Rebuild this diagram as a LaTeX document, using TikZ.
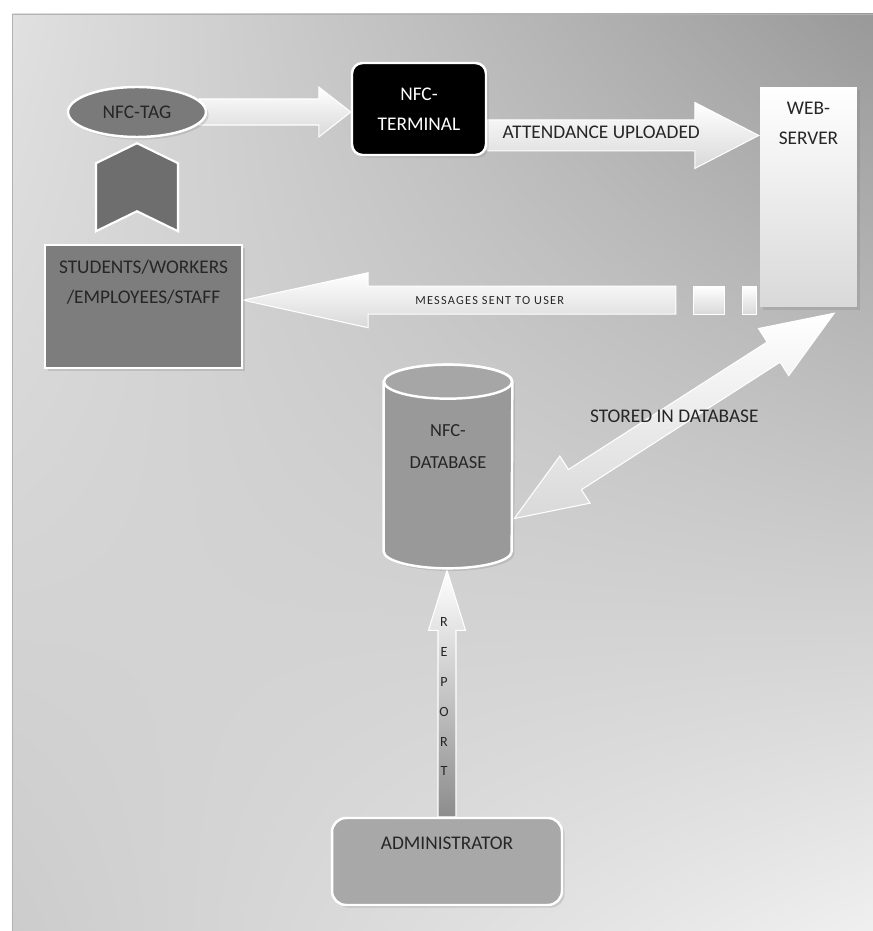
\documentclass[tikz,border=0pt]{standalone}
\usepackage{fontspec}
\setmainfont{Carlito}
\usetikzlibrary{calc,shapes.geometric,shadows,shadings}

\pgfdeclarelayer{bg}
\pgfdeclarelayer{flows}
\pgfsetlayers{bg,flows,main}

% 块状箭头: [样式]{起点}{终点}{半杆宽}{半头宽}{头长}
\newcommand{\blkarrow}[6][]{%
  \coordinate (hb) at ($(#3)!#6*0.02cm!(#2)$);
  \path[#1] ($(#2)!#4*0.02cm!90:(#3)$) -- ($(hb)!#4*0.02cm!90:(#3)$)
    -- ($(hb)!#5*0.02cm!90:(#3)$) -- (#3) -- ($(hb)!#5*0.02cm!-90:(#3)$)
    -- ($(hb)!#4*0.02cm!-90:(#3)$) -- ($(#2)!#4*0.02cm!-90:(#3)$) -- cycle;}
% 双向块状箭头
\newcommand{\dblkarrow}[6][]{%
  \coordinate (ha) at ($(#2)!#6*0.02cm!(#3)$);
  \coordinate (hb) at ($(#3)!#6*0.02cm!(#2)$);
  \path[#1] (#2) -- ($(ha)!#5*0.02cm!90:(#3)$) -- ($(ha)!#4*0.02cm!90:(#3)$)
    -- ($(hb)!#4*0.02cm!90:(#3)$) -- ($(hb)!#5*0.02cm!90:(#3)$) -- (#3)
    -- ($(hb)!#5*0.02cm!-90:(#3)$) -- ($(hb)!#4*0.02cm!-90:(#3)$)
    -- ($(ha)!#4*0.02cm!-90:(#3)$) -- ($(ha)!#5*0.02cm!-90:(#3)$) -- cycle;}

\begin{document}
\begin{tikzpicture}[x=0.02cm, y=0.02cm, thick,
    every node/.style={font=\fontsize{11}{17}\selectfont, text=black!85, align=center},
    box/.style={draw=white, line width=1.4pt, inner sep=0pt,
      drop shadow={opacity=0.25, shadow xshift=1.5pt, shadow yshift=-1.5pt}},
    lbl/.style={inner sep=0pt},
    flow/.style={draw=white, line width=0.6pt, top color=white, bottom color=black!15}]
  \useasboundingbox (0,0) rectangle (873,931);

  % 1. 背景渐变
  \begin{pgfonlayer}{bg}
    \shade[upper left=black!12, upper right=black!40, lower left=black!20, lower right=black!6]
      (12,0) rectangle (873,917);
    \draw[black!30, thin] (12,0) -- (12,917) -- (873,917);
  \end{pgfonlayer}

  % 2. 各模块
  \node[box, ellipse, fill=black!52, minimum width=2.76cm, minimum height=1cm] (tag) at (137,819) {NFC-TAG};
  \node[box, rounded corners=6pt, fill=black, text=white, minimum width=2.68cm, minimum height=1.84cm] (term) at (419,822) {NFC-\\TERMINAL};
  \node[box, draw=none, top color=white, bottom color=black!15, minimum width=1.94cm, minimum height=4.4cm] (server) at (808.5,734) {};
  \node[box, fill=black!51, minimum width=3.94cm, minimum height=2.46cm] (users) at (143.5,624.5) {};
  \node[inner sep=0pt, minimum width=2.56cm, minimum height=4.06cm] (db) at (448,464.5) {};
  \node[box, rounded corners=8pt, fill=black!34, minimum width=4.6cm, minimum height=1.74cm] (admin) at (447,69.5) {};

  % 数据库圆柱
  \path[fill=black!40, draw=white, line width=1.4pt, drop shadow={opacity=0.25, shadow xshift=1.5pt, shadow yshift=-1.5pt}]
    ($(db.north west)+(0,-17)$) -- ($(db.south west)+(0,17)$)
    arc[start angle=180, end angle=360, x radius=64, y radius=17]
    -- ($(db.north east)+(0,-17)$)
    arc[start angle=0, end angle=180, x radius=64, y radius=17] -- cycle;
  \path[fill=black!35, draw=white, line width=1.4pt] ($(db.north)+(0,-17)$) ellipse[x radius=64, y radius=17];

  \node[lbl, anchor=north] (srvlbl) at ($(server.north)+(0,-16)$) {WEB-\\SERVER};
  \node[lbl, anchor=north] (userlbl) at ($(users.north)+(0,-16)$) {STUDENTS/WORKERS\\/EMPLOYEES/STAFF};
  \node[lbl, font=\fontsize{10.5}{18}\selectfont] (dblbl) at ($(db.center)+(0,20)$) {NFC-\\DATABASE};
  \node[lbl, anchor=north] (adminlbl) at ($(admin.north)+(0,-20)$) {ADMINISTRATOR};

  % 3. 人员 -> 标签
  \coordinate (chevT) at ($(tag.south)+(0,-5)$);
  \fill[black!57, draw=white, line width=1.2pt] (chevT) -- ++(41,-20) -- ++(0,-68) -- ++(-41,20) -- ++(-41,-20) -- ++(0,68) -- cycle;

  % 4. 数据流箭头
  \coordinate (a1s) at ($(tag.east)+(-8,0)$);
  \coordinate (a1e) at (tag.east -| term.west);
  \coordinate (a2s) at ($(term.south east)!0.22!(term.north east)$);
  \coordinate (a2e) at (a2s -| server.west);
  \coordinate (msgT) at ($(server.south west)+(-83,8)$);
  \coordinate (msgE) at (msgT -| users.east);
  \coordinate (dbA) at ($(db.east)+(2,-52)$);
  \coordinate (srvB) at ($(server.south east)+(-24,-5)$);
  \coordinate (repE) at ($(admin.north |- db.south)+(0,-2)$);
  \begin{pgfonlayer}{flows}
    \blkarrow[flow]{a1s}{a1e}{13}{25}{32}
    \blkarrow[flow]{a2s}{a2e}{15.5}{33}{64}
    \blkarrow[flow]{msgT}{msgE}{14}{27.5}{125}
    \path[flow] ($(msgT)+(18,-14)$) rectangle ($(msgT)+(49,14)$);
    \path[flow] ($(msgT)+(67,-14)$) rectangle ($(msgT)+(81,14)$);
    \dblkarrow[flow]{dbA}{srvB}{12}{28}{72}
    \blkarrow[flow, bottom color=black!45]{admin.north}{repE}{9}{18.5}{60}
  \end{pgfonlayer}

  \node[lbl] (attlbl) at ($(a2s)!0.42!(a2e)+(0,3)$) {ATTENDANCE UPLOADED};
  \node[lbl, font=\fontsize{7}{8}\selectfont\addfontfeature{LetterSpace=10}] (msglbl) at ($(msgT)!0.43!(msgE)$) {MESSAGES SENT TO USER};
  \node[lbl] (storelbl) at ($(dbA)!0.5!(srvB)$) {STORED IN DATABASE};
  \node[lbl, font=\fontsize{8}{17}\selectfont] (replbl) at ($(admin.north)+(-3,120)$) {R\\E\\P\\O\\R\\T};
\end{tikzpicture}
\end{document}
